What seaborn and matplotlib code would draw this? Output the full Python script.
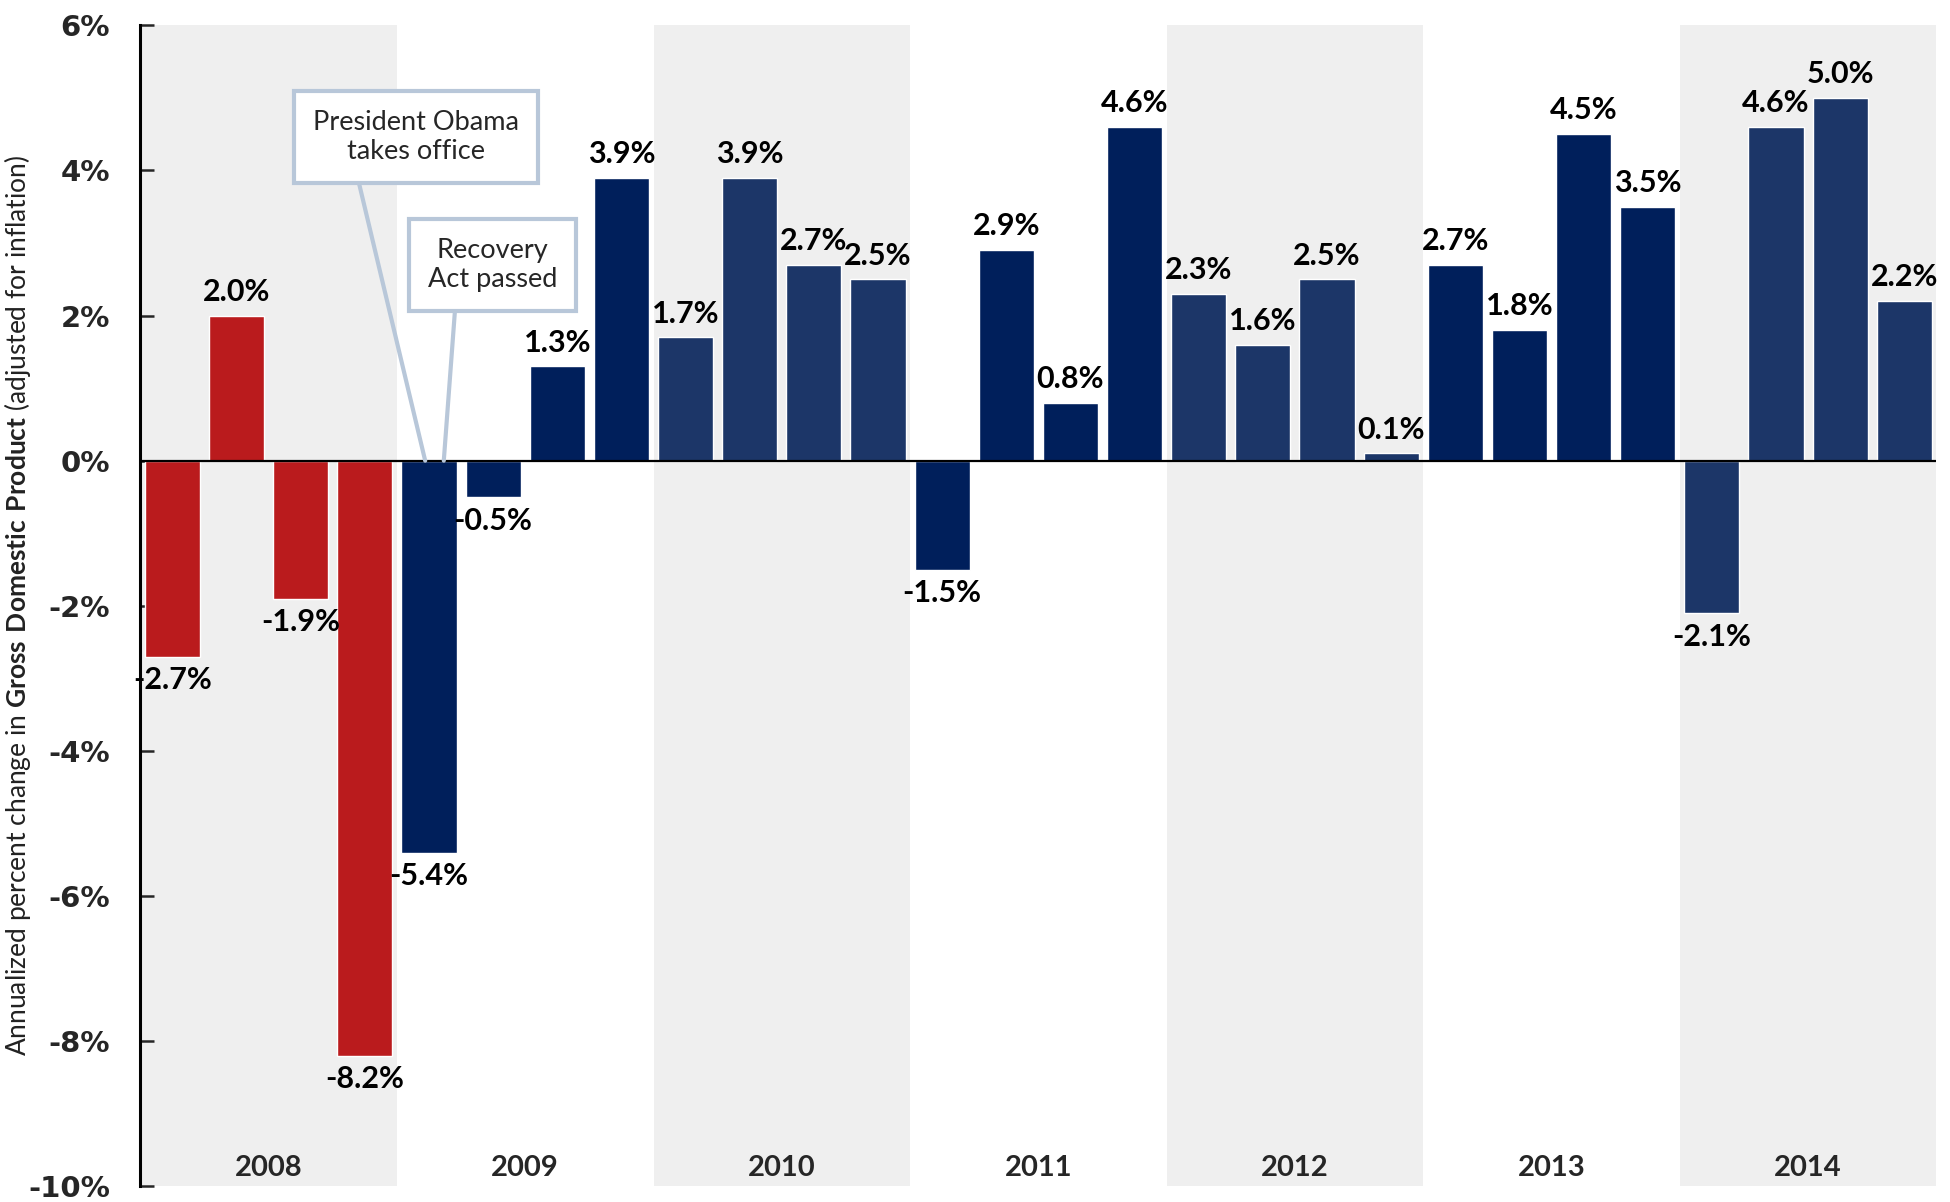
import numpy as np
import pandas as pd
import seaborn as sns
import matplotlib.pyplot as plt

# quarterly real GDP growth, annualized
years = ['2008', '2009', '2010', '2011', '2012', '2013', '2014']
quarters = [f'{y}Q{q}' for y in years for q in range(1, 5)]
gdp = [-2.7, 2.0, -1.9, -8.2,
       -5.4, -0.5, 1.3, 3.9,
       1.7, 3.9, 2.7, 2.5,
       -1.5, 2.9, 0.8, 4.6,
       2.3, 1.6, 2.5, 0.1,
       2.7, 1.8, 4.5, 3.5,
       -2.1, 4.6, 5.0, 2.2]
yticks = [-10, -8, -6, -4, -2, 0, 2, 4, 6]

red = '#BA1B1D'
navy_dark = '#001F5B'
navy_light = '#1C3668'
shade = '#EFEFEF'
box_col = '#B8C7D9'

colors = []
for i, q in enumerate(quarters):
    yi = i // 4
    if yi == 0:
        colors.append(red)
    elif yi % 2 == 1:
        colors.append(navy_dark)
    else:
        colors.append(navy_light)

df = pd.DataFrame({'quarter': quarters, 'gdp': gdp})

sns.set_theme(style='white')
plt.rcParams['font.family'] = ['Lato', 'DejaVu Sans']
plt.rcParams['mathtext.fontset'] = 'custom'
plt.rcParams['mathtext.bf'] = 'Lato:bold'
plt.rcParams['mathtext.rm'] = 'Lato'

fig, ax = plt.subplots(figsize=(19.5, 12.02), dpi=100)
fig.subplots_adjust(left=0.072, right=0.993, bottom=0.013, top=0.979)

# alternating year shading
for i in range(0, len(years), 2):
    ax.axvspan(i * 4 - 0.5, i * 4 + 3.5, color=shade, zorder=0, lw=0)

sns.barplot(data=df, x='quarter', y='gdp', hue='quarter', palette=colors,
            legend=False, width=0.86, saturation=1, ax=ax, zorder=2)

for c in ax.containers:
    ax.bar_label(c, fmt='{:.1f}%', padding=7, fontsize=22,
                 fontweight='bold', color='black')

ax.axhline(0, color='black', lw=1.6, zorder=3)

ax.set_xlim(-0.5, len(quarters) - 0.5)
ax.set_ylim(-10, 6)
ax.set_yticks(yticks)
ax.set_yticklabels([f'{v}%' for v in yticks], family='DejaVu Sans',
                   fontweight='heavy', fontsize=21)
ax.tick_params(axis='y', direction='in', length=10, width=1.8, pad=22,
               left=True)
ax.tick_params(axis='x', bottom=False, labelbottom=False)
ax.set_xlabel('')

for s in ['top', 'right', 'bottom']:
    ax.spines[s].set_visible(False)
ax.spines['left'].set_color('black')
ax.spines['left'].set_linewidth(2.2)

# year labels along the bottom
for i, y in enumerate(years):
    ax.text(i * 4 + 1.5, -9.74, y, ha='center', va='center',
            fontsize=21, fontweight='bold')

ax.set_ylabel(r'Annualized percent change in $\bf{Gross\ Domestic\ Product}$ (adjusted for inflation)',
              fontsize=19, color='#222222')
ax.yaxis.set_label_coords(-0.060, 0.5)

box = dict(boxstyle='square,pad=0.7', fc='white', ec=box_col, lw=3)
ax.annotate('President Obama\ntakes office', xy=(3.94, 0), xytext=(3.80, 4.46),
            ha='center', va='center', fontsize=19.5, bbox=box, zorder=5,
            arrowprops=dict(arrowstyle='-', color=box_col, lw=3,
                            shrinkA=0, shrinkB=0, relpos=(0.2, 0)))
ax.annotate('Recovery\nAct passed', xy=(4.23, 0), xytext=(4.99, 2.69),
            ha='center', va='center', fontsize=19.5, bbox=box, zorder=5,
            arrowprops=dict(arrowstyle='-', color=box_col, lw=3,
                            shrinkA=0, shrinkB=0, relpos=(0.22, 0)))

fig.savefig('out.png', dpi=100)
